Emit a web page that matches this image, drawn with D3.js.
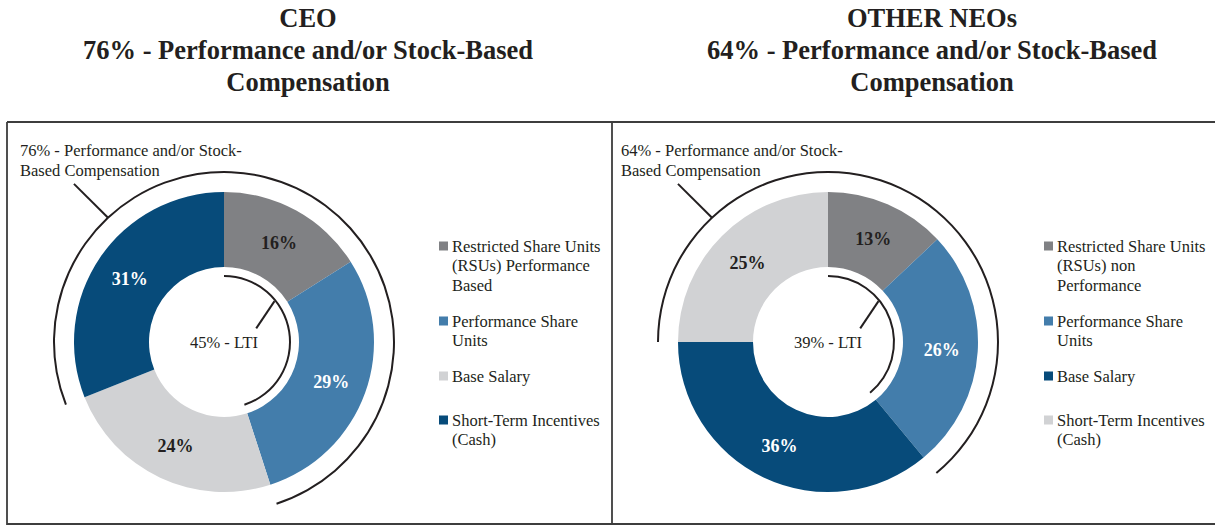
<!DOCTYPE html>
<html>
<head>
<meta charset="utf-8">
<script src="https://cdn.jsdelivr.net/npm/d3@7"></script>
<style>
  body { margin: 0; background: #fff; }
  svg text { font-family: "Liberation Serif", "Times New Roman", serif; fill: #231f20; }
</style>
</head>
<body>
<div id="chart"></div>
<script>
const width = 1215;
const height = 525;

// data
const ceoTitle = ["CEO", "76% - Performance and/or Stock-Based", "Compensation"];
const neoTitle = ["OTHER NEOs", "64% - Performance and/or Stock-Based", "Compensation"];

const ceoLegend = [
    ["Restricted Share Units", "(RSUs) Performance", "Based"],
    ["Performance Share", "Units"],
    ["Base Salary"],
    ["Short-Term Incentives", "(Cash)"]
];
const ceoValues = [16, 29, 24, 31];
const ceoPerf = 76;
const ceoLti = 45;

const neoLegend = [
    ["Restricted Share Units", "(RSUs) non", "Performance"],
    ["Performance Share", "Units"],
    ["Base Salary"],
    ["Short-Term Incentives", "(Cash)"]
];
const neoValues = [13, 26, 36, 25];
const neoPerf = 64;
const neoLti = 39;

const gray = "#808184", steel = "#437dab", light = "#d1d2d4", navy = "#074b7a";
const ceoColors = [gray, steel, light, navy];
const neoColors = [gray, steel, navy, light];

const svg = d3.select("#chart").append("svg")
    .attr("width", width)
    .attr("height", height);

// frame
svg.append("path")
    .attr("d", "M7,122 H1215 M7,122 V524 H1215 M612,122 V524")
    .attr("fill", "none")
    .attr("stroke", "#3d3d3d")
    .attr("stroke-width", 1.8);

const angle = d3.scaleLinear().domain([0, 100]).range([0, 2 * Math.PI]);

function drawPanel(opts) {
    // title
    const t = svg.append("text")
        .attr("text-anchor", "middle")
        .style("font-weight", "bold")
        .style("font-size", "26.5px");
    opts.title.forEach((line, i) => {
        t.append("tspan").attr("x", opts.titleX).attr("y", 27 + i * 32).text(line);
    });

    const g = svg.append("g").attr("transform", `translate(${opts.cx},342)`);

    const pie = d3.pie().sort(null).value(d => d);
    const arcs = pie(opts.values);
    const arc = d3.arc().innerRadius(75).outerRadius(150);
    const labelArc = d3.arc().innerRadius(78).outerRadius(150);

    g.selectAll("path.slice")
        .data(arcs)
        .join("path")
        .attr("class", "slice")
        .attr("d", arc)
        .attr("fill", (d, i) => opts.colors[i]);

    g.selectAll("text.val")
        .data(arcs)
        .join("text")
        .attr("class", "val")
        .attr("transform", d => `translate(${labelArc.centroid(d)})`)
        .attr("text-anchor", "middle")
        .attr("dy", "0.4em")
        .style("font-weight", "bold")
        .style("font-size", "18px")
        .style("fill", (d, i) => (opts.colors[i] === light || opts.colors[i] === gray) ? "#231f20" : "#fff")
        .text(d => d.value + "%");

    // outer bracket: performance and/or stock-based
    const band = d3.arc();
    g.append("path")
        .attr("d", band({
            innerRadius: 169, outerRadius: 171,
            startAngle: -angle(opts.perf - opts.lti), endAngle: angle(opts.lti)
        }))
        .attr("fill", "#231f20");

    // inner bracket: LTI
    g.append("path")
        .attr("d", band({
            innerRadius: 65, outerRadius: 67,
            startAngle: 0, endAngle: angle(opts.lti)
        }))
        .attr("fill", "#231f20");

    const polar = (r, deg) => [r * Math.sin(deg * Math.PI / 180), -r * Math.cos(deg * Math.PI / 180)];

    const p1 = polar(170, -43), p2 = polar(218, -43.5);
    g.append("line")
        .attr("x1", p1[0]).attr("y1", p1[1]).attr("x2", p2[0]).attr("y2", p2[1])
        .attr("stroke", "#231f20").attr("stroke-width", 2);

    const q1 = polar(65, 51), q2 = polar(35, 67);
    g.append("line")
        .attr("x1", q1[0]).attr("y1", q1[1]).attr("x2", q2[0]).attr("y2", q2[1])
        .attr("stroke", "#231f20").attr("stroke-width", 2);

    g.append("text")
        .attr("text-anchor", "middle")
        .attr("dy", "0.35em")
        .style("font-size", "16.5px")
        .text(opts.lti + "% - LTI");

    // top-left callout
    const c = svg.append("text").style("font-size", "16.5px");
    [opts.perf + "% - Performance and/or Stock-", "Based Compensation"].forEach((line, i) => {
        c.append("tspan").attr("x", opts.calloutX).attr("y", 156 + i * 20).text(line);
    });

    // legend
    const legendY = [246, 321, 376, 420];
    opts.legend.forEach((lines, i) => {
        svg.append("rect")
            .attr("x", opts.legendX)
            .attr("y", legendY[i] - 4.5)
            .attr("width", 9)
            .attr("height", 9)
            .attr("fill", opts.colors[i]);
        const lt = svg.append("text").style("font-size", "16.5px");
        lines.forEach((line, j) => {
            lt.append("tspan")
                .attr("x", opts.legendX + 13)
                .attr("y", legendY[i] + j * 19.5)
                .attr("dy", "0.35em")
                .text(line);
        });
    });
}

drawPanel({
    title: ceoTitle, titleX: 308, cx: 224, values: ceoValues, colors: ceoColors,
    perf: ceoPerf, lti: ceoLti, legend: ceoLegend, legendX: 439, calloutX: 20
});

drawPanel({
    title: neoTitle, titleX: 932, cx: 828, values: neoValues, colors: neoColors,
    perf: neoPerf, lti: neoLti, legend: neoLegend, legendX: 1044, calloutX: 621
});
</script>
</body>
</html>
